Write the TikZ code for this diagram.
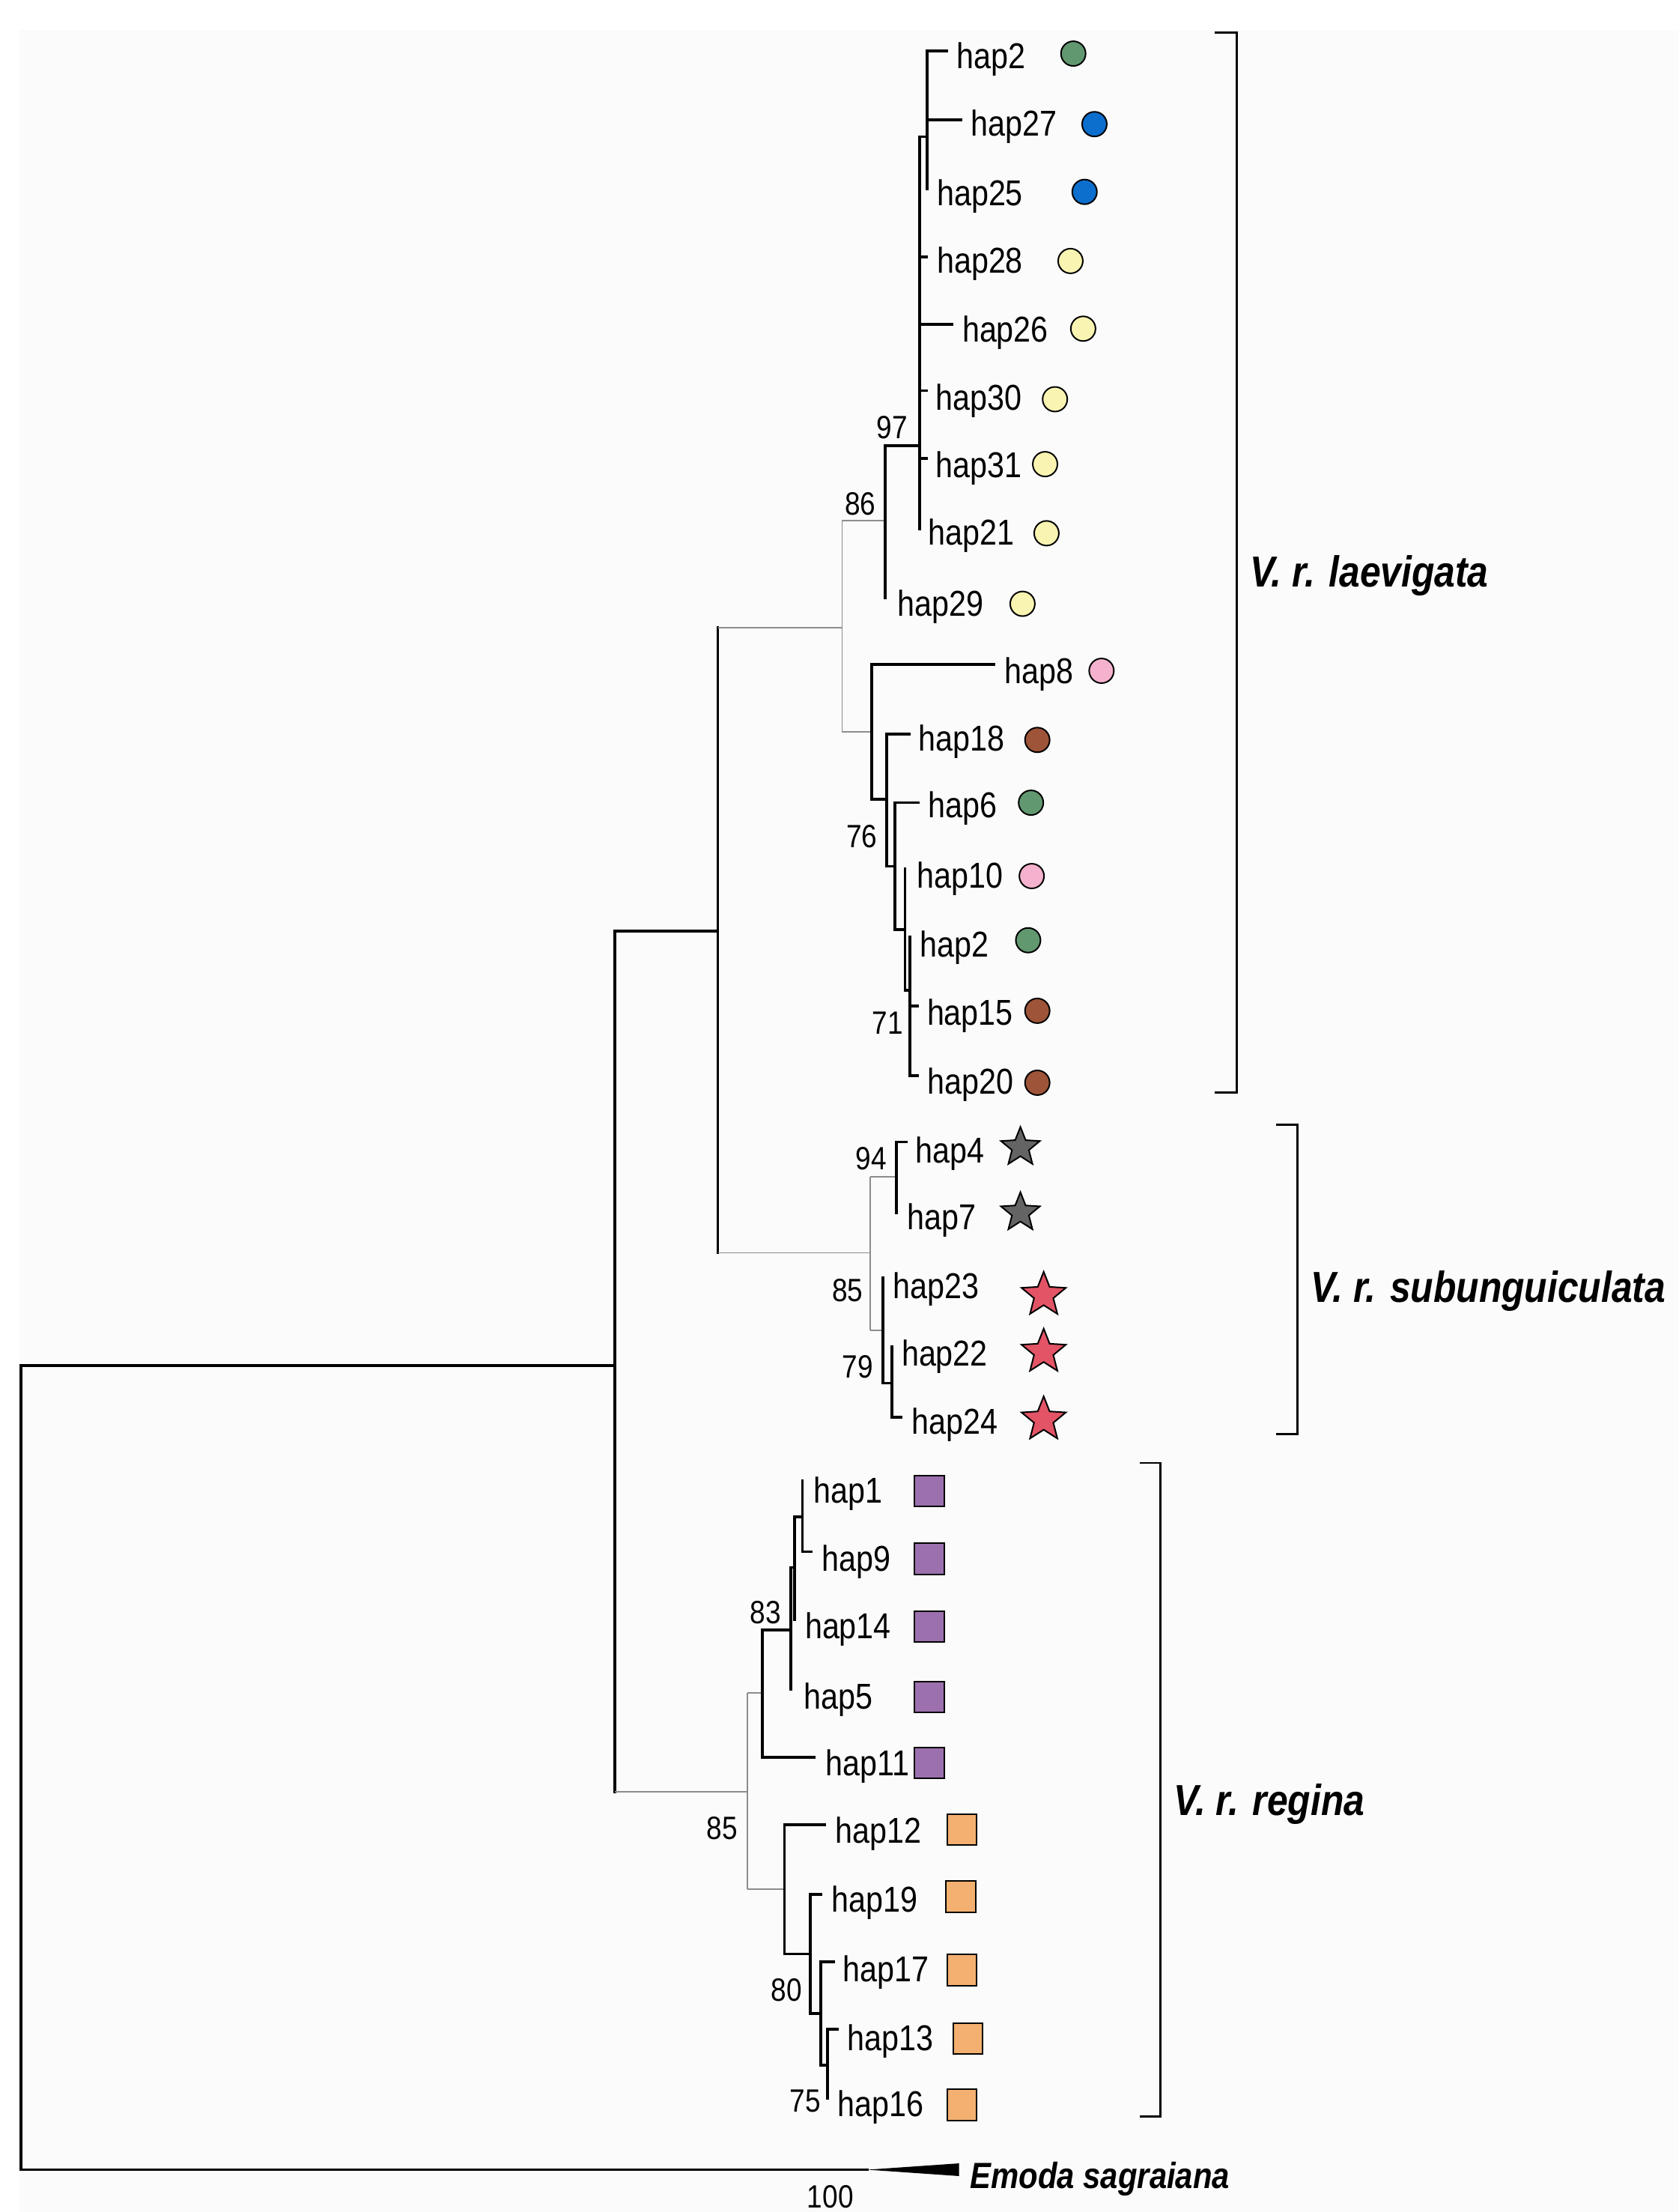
\documentclass[tikz,border=0pt]{standalone}
\usepackage{fontspec}
\setmainfont{Liberation Sans}[FakeStretch=0.86]
\usetikzlibrary{shapes.geometric}

\definecolor{bggray}{RGB}{251,251,251}
\definecolor{lowgray}{RGB}{140,140,140}
\definecolor{hgreen}{RGB}{98,152,112}
\definecolor{hblue}{RGB}{12,110,205}
\definecolor{hyellow}{RGB}{250,244,178}
\definecolor{hpink}{RGB}{244,178,206}
\definecolor{hbrown}{RGB}{158,84,56}
\definecolor{hgrey}{RGB}{100,100,100}
\definecolor{hred}{RGB}{226,84,102}
\definecolor{hpurple}{RGB}{156,112,174}
\definecolor{horange}{RGB}{243,176,112}

\tikzset{
  branch/.style={line width=1.1pt,line cap=rect},
  weakbranch/.style={line width=0.5pt,draw=lowgray},
  bracketline/.style={line width=0.9pt},
  haplabel/.style={anchor=base west,inner sep=0pt,font=\fontsize{14.5}{17}\selectfont},
  support/.style={inner sep=0pt,font=\fontsize{13}{15}\selectfont},
  cladename/.style={anchor=base west,inner sep=0pt,font=\fontsize{17.5}{20}\selectfont\bfseries\itshape},
  circmark/.style={circle,draw,line width=0.6pt,minimum size=0.35cm,inner sep=0pt},
  sqmark/.style={rectangle,draw,line width=0.6pt,minimum width=0.42cm,minimum height=0.44cm,inner sep=0pt},
  starmark/.style={star,star points=5,star point ratio=2.3,draw,line width=0.6pt,inner sep=0pt}
}

\begin{document}
\begin{tikzpicture}[x=0.02cm,y=-0.02cm]
\useasboundingbox (0,0) rectangle (1190,1568);
\fill[white] (0,0) rectangle (1190,1568);
\fill[bggray] (14,21) rectangle (1190,1568);

% internal nodes
\coordinate (nR) at (15,1253);
\coordinate (nA) at (436,968);
\coordinate (nB) at (509,660);
\coordinate (nC) at (597,445);
\coordinate (nD) at (627.6,369);
\coordinate (nF) at (652,316);
\coordinate (nH) at (657.4,97);
\coordinate (nE) at (618.2,518.7);
\coordinate (nI) at (628.8,566.7);
\coordinate (nJ) at (634.5,614);
\coordinate (nK) at (641.6,659);
\coordinate (nL) at (645,702);
\coordinate (nS) at (617,888);
\coordinate (nM) at (635.5,834);
\coordinate (nN) at (626,943);
\coordinate (nO) at (632.5,980.5);
\coordinate (nG) at (529.8,1270);
\coordinate (nP) at (540.5,1200);
\coordinate (nQ) at (560.6,1155.4);
\coordinate (nU) at (563.5,1111);
\coordinate (nV) at (568.9,1075.4);
\coordinate (nW) at (556.2,1339);
\coordinate (nX) at (574.6,1385.1);
\coordinate (nY) at (582,1427.3);
\coordinate (nZ) at (586.6,1463.8);

% branch ends
\coordinate (t2a) at (671.2,36);
\coordinate (t27) at (681.4,85);
\coordinate (t25) at (657.4,134);
\coordinate (t28) at (657,182);
\coordinate (t26) at (675,230);
\coordinate (t30) at (657,277);
\coordinate (t31) at (657,325);
\coordinate (t21) at (652,375);
\coordinate (t29) at (627.6,424);
\coordinate (t8) at (704.6,471);
\coordinate (t18) at (644.6,520.5);
\coordinate (t6) at (651,569);
\coordinate (t10) at (641.6,616);
\coordinate (t2b) at (645,664);
\coordinate (t15) at (650.7,713);
\coordinate (t20) at (650.7,762.5);
\coordinate (t4) at (642.6,809.4);
\coordinate (t7) at (635.5,859.6);
\coordinate (t23) at (626,905.8);
\coordinate (t22) at (632.5,954.7);
\coordinate (t24) at (638.6,1004.5);
\coordinate (t1) at (568.9,1049.8);
\coordinate (t9) at (575.3,1100);
\coordinate (t14) at (563.5,1148);
\coordinate (t5) at (560.6,1197.5);
\coordinate (t11) at (577.2,1245.6);
\coordinate (t12) at (584.7,1293.3);
\coordinate (t19) at (582,1343);
\coordinate (t17) at (590.9,1390.7);
\coordinate (t13) at (593.6,1438.5);
\coordinate (t16) at (586.6,1487.2);
\coordinate (emo) at (615,1538);
\coordinate (emoTip) at (680,1538);

% root and outgroup
\draw[branch] (nR |- nA) -- (nR |- emo);
\draw[branch] (nR |- nA) -- (nA);
\draw[branch] (nR |- emo) -- (emo);
\fill (emo) -- ([yshift=0.09cm]emoTip) -- ([yshift=-0.09cm]emoTip) -- cycle;

% backbone
\draw[branch] (nA |- nB) -- (nA |- nG);
\draw[branch] (nA |- nB) -- (nB);
\draw[weakbranch] (nA |- nG) -- (nG);
\draw[branch] (nB |- nC) -- (nB |- nS);
\draw[weakbranch] (nB |- nC) -- (nC);
\draw[weakbranch] (nB |- nS) -- (nS);

% laevigata
\draw[weakbranch] (nC |- nD) -- (nC |- nE);
\draw[weakbranch] (nC |- nD) -- (nD);
\draw[weakbranch] (nC |- nE) -- (nE);
\draw[branch] (nD |- nF) -- (nD |- t29);
\draw[branch] (nD |- nF) -- (nF);
\draw[branch] (nF |- nH) -- (nF |- t21);
\draw[branch] (nF |- nH) -- (nH);
\foreach \t in {t28,t26,t30,t31} \draw[branch] (nF |- \t) -- (\t);
\draw[branch] (nH |- t2a) -- (t25);
\foreach \t in {t2a,t27} \draw[branch] (nH |- \t) -- (\t);
\draw[branch] (nE |- t8) -- (nE |- nI);
\draw[branch] (nE |- t8) -- (t8);
\draw[branch] (nE |- nI) -- (nI);
\draw[branch] (nI |- t18) -- (nI |- nJ);
\draw[branch] (nI |- t18) -- (t18);
\draw[branch] (nI |- nJ) -- (nJ);
\draw[branch] (nJ |- t6) -- (nJ |- nK);
\draw[branch] (nJ |- t6) -- (t6);
\draw[branch] (nJ |- nK) -- (nK);
\draw[branch] (t10) -- (nK |- nL);
\draw[branch] (nK |- nL) -- (nL);
\draw[branch] (t2b) -- (nL |- t20);
\foreach \t in {t15,t20} \draw[branch] (nL |- \t) -- (\t);

% subunguiculata
\draw[weakbranch] (nS |- nM) -- (nS |- nN);
\draw[weakbranch] (nS |- nM) -- (nM);
\draw[weakbranch] (nS |- nN) -- (nN);
\draw[branch] (nM |- t4) -- (t7);
\draw[branch] (nM |- t4) -- (t4);
\draw[branch] (t23) -- (nN |- nO);
\draw[branch] (nN |- nO) -- (nO);
\draw[branch] (t22) -- (nO |- t24);
\draw[branch] (nO |- t24) -- (t24);

% regina
\draw[weakbranch] (nG |- nP) -- (nG |- nW);
\draw[weakbranch] (nG |- nP) -- (nP);
\draw[weakbranch] (nG |- nW) -- (nW);
\draw[branch] (nP |- nQ) -- (nP |- t11);
\draw[branch] (nP |- nQ) -- (nQ);
\draw[branch] (nP |- t11) -- (t11);
\draw[branch] (nQ |- nU) -- (t5);
\draw[branch] (nQ |- nU) -- (nU);
\draw[branch] (nU |- nV) -- (t14);
\draw[branch] (nU |- nV) -- (nV);
\draw[branch] (t1) -- (nV |- t9);
\draw[branch] (nV |- t9) -- (t9);
\draw[branch] (nW |- t12) -- (nW |- nX);
\draw[branch] (nW |- t12) -- (t12);
\draw[branch] (nW |- nX) -- (nX);
\draw[branch] (nX |- t19) -- (nX |- nY);
\draw[branch] (nX |- t19) -- (t19);
\draw[branch] (nX |- nY) -- (nY);
\draw[branch] (nY |- t17) -- (nY |- nZ);
\draw[branch] (nY |- t17) -- (t17);
\draw[branch] (nY |- nZ) -- (nZ);
\draw[branch] (nZ |- t13) -- (t16);
\draw[branch] (nZ |- t13) -- (t13);

% support values
\node[support] (s97) at (632.6,303) {97};
\node[support] (s86) at (610,357) {86};
\node[support] (s76) at (611,593) {76};
\node[support] (s71) at (629.4,725) {71};
\node[support] (s94) at (617.8,821.4) {94};
\node[support] (s85a) at (601,914.7) {85};
\node[support] (s79) at (608,969) {79};
\node[support] (s83) at (542.9,1143) {83};
\node[support] (s85b) at (512,1296) {85};
\node[support] (s80) at (557.6,1410.4) {80};
\node[support] (s75) at (571.1,1489.1) {75};
\node[support,anchor=base west] (s100) at (572,1565) {100};

% haplotype names
\node[haplabel] (l2a) at (678,48.5) {hap2};
\node[haplabel] (l27) at (688,96.5) {hap27};
\node[haplabel] (l25) at (664,145.5) {hap25};
\node[haplabel] (l28) at (664,193.5) {hap28};
\node[haplabel] (l26) at (682,242.5) {hap26};
\node[haplabel] (l30) at (663,290.5) {hap30};
\node[haplabel] (l31) at (663,338.5) {hap31};
\node[haplabel] (l21) at (658,386.5) {hap21};
\node[haplabel] (l29) at (636,436.5) {hap29};
\node[haplabel] (l8) at (712,484.5) {hap8};
\node[haplabel] (l18) at (651,532.5) {hap18};
\node[haplabel] (l6) at (658,579.5) {hap6};
\node[haplabel] (l10) at (650,629.5) {hap10};
\node[haplabel] (l2b) at (652,678.5) {hap2};
\node[haplabel] (l15) at (657,726.5) {hap15};
\node[haplabel] (l20) at (657.5,775.5) {hap20};
\node[haplabel] (l4) at (649,824.5) {hap4};
\node[haplabel] (l7) at (643,871.5) {hap7};
\node[haplabel] (l23) at (633,920.5) {hap23};
\node[haplabel] (l22) at (639,968.5) {hap22};
\node[haplabel] (l24) at (646,1016.5) {hap24};
\node[haplabel] (l1) at (576.5,1065.5) {hap1};
\node[haplabel] (l9) at (582.5,1113.5) {hap9};
\node[haplabel] (l14) at (570.5,1161.5) {hap14};
\node[haplabel] (l5) at (569.5,1211.5) {hap5};
\node[haplabel] (l11) at (585,1258.5) {hap11};
\node[haplabel] (l12) at (592,1306.5) {hap12};
\node[haplabel] (l19) at (589.5,1355.5) {hap19};
\node[haplabel] (l17) at (597.5,1404.5) {hap17};
\node[haplabel] (l13) at (600.5,1453.5) {hap13};
\node[haplabel] (l16) at (593.5,1500.5) {hap16};

% markers
\node[circmark,fill=hgreen] (m2a) at (761,38) {};
\node[circmark,fill=hblue] (m27) at (776,88) {};
\node[circmark,fill=hblue] (m25) at (769,136) {};
\node[circmark,fill=hyellow] (m28) at (759,185) {};
\node[circmark,fill=hyellow] (m26) at (768,233) {};
\node[circmark,fill=hyellow] (m30) at (748,283) {};
\node[circmark,fill=hyellow] (m31) at (741,329) {};
\node[circmark,fill=hyellow] (m21) at (742,378) {};
\node[circmark,fill=hyellow] (m29) at (725,428) {};
\node[circmark,fill=hpink] (m8) at (781,475.5) {};
\node[circmark,fill=hbrown] (m18) at (735.5,524.5) {};
\node[circmark,fill=hgreen] (m6) at (731,569) {};
\node[circmark,fill=hpink] (m10) at (731.5,621) {};
\node[circmark,fill=hgreen] (m2b) at (729,666.5) {};
\node[circmark,fill=hbrown] (m15) at (735.5,716.5) {};
\node[circmark,fill=hbrown] (m20) at (735.5,767.5) {};
\node[starmark,fill=hgrey,minimum size=0.58cm] (m4) at (723.5,813.3) {};
\node[starmark,fill=hgrey,minimum size=0.58cm] (m7) at (723.5,859.6) {};
\node[starmark,fill=hred,minimum size=0.66cm] (m23) at (740,918) {};
\node[starmark,fill=hred,minimum size=0.66cm] (m22) at (740,958.3) {};
\node[starmark,fill=hred,minimum size=0.66cm] (m24) at (740,1006.3) {};
\foreach \m/\y in {m1/1057,m9/1105,m14/1153,m5/1203,m11/1249.7}
  \node[sqmark,fill=hpurple] (\m) at (659,\y) {};
\node[sqmark,fill=horange] (m12) at (682,1297) {};
\node[sqmark,fill=horange] (m19) at (681.3,1344.4) {};
\node[sqmark,fill=horange] (m17) at (682.1,1396.4) {};
\node[sqmark,fill=horange] (m13) at (686.2,1445.1) {};
\node[sqmark,fill=horange] (m16) at (682.1,1492) {};

% clade brackets
\coordinate (lvTop) at (861.4,23);
\coordinate (lvBot) at (861.4,774.6);
\draw[bracketline] (lvTop) -- ++(15.6,0) |- (lvBot);
\coordinate (suTop) at (905,797.4);
\coordinate (suBot) at (905,1016.8);
\draw[bracketline] (suTop) -- ++(15,0) |- (suBot);
\coordinate (reTop) at (808,1037);
\coordinate (reBot) at (808,1500.4);
\draw[bracketline] (reTop) -- ++(14.5,0) |- (reBot);

\node[cladename] (lvName) at (886,416) {V. r. laevigata};
\node[cladename] (suName) at (929.3,923) {V. r. subunguiculata};
\node[cladename] (reName) at (832,1287) {V. r. regina};
\node[cladename,font=\fontsize{14.7}{17}\selectfont\bfseries\itshape] (emoName) at (687.6,1551) {Emoda sagraiana};
\end{tikzpicture}
\end{document}
